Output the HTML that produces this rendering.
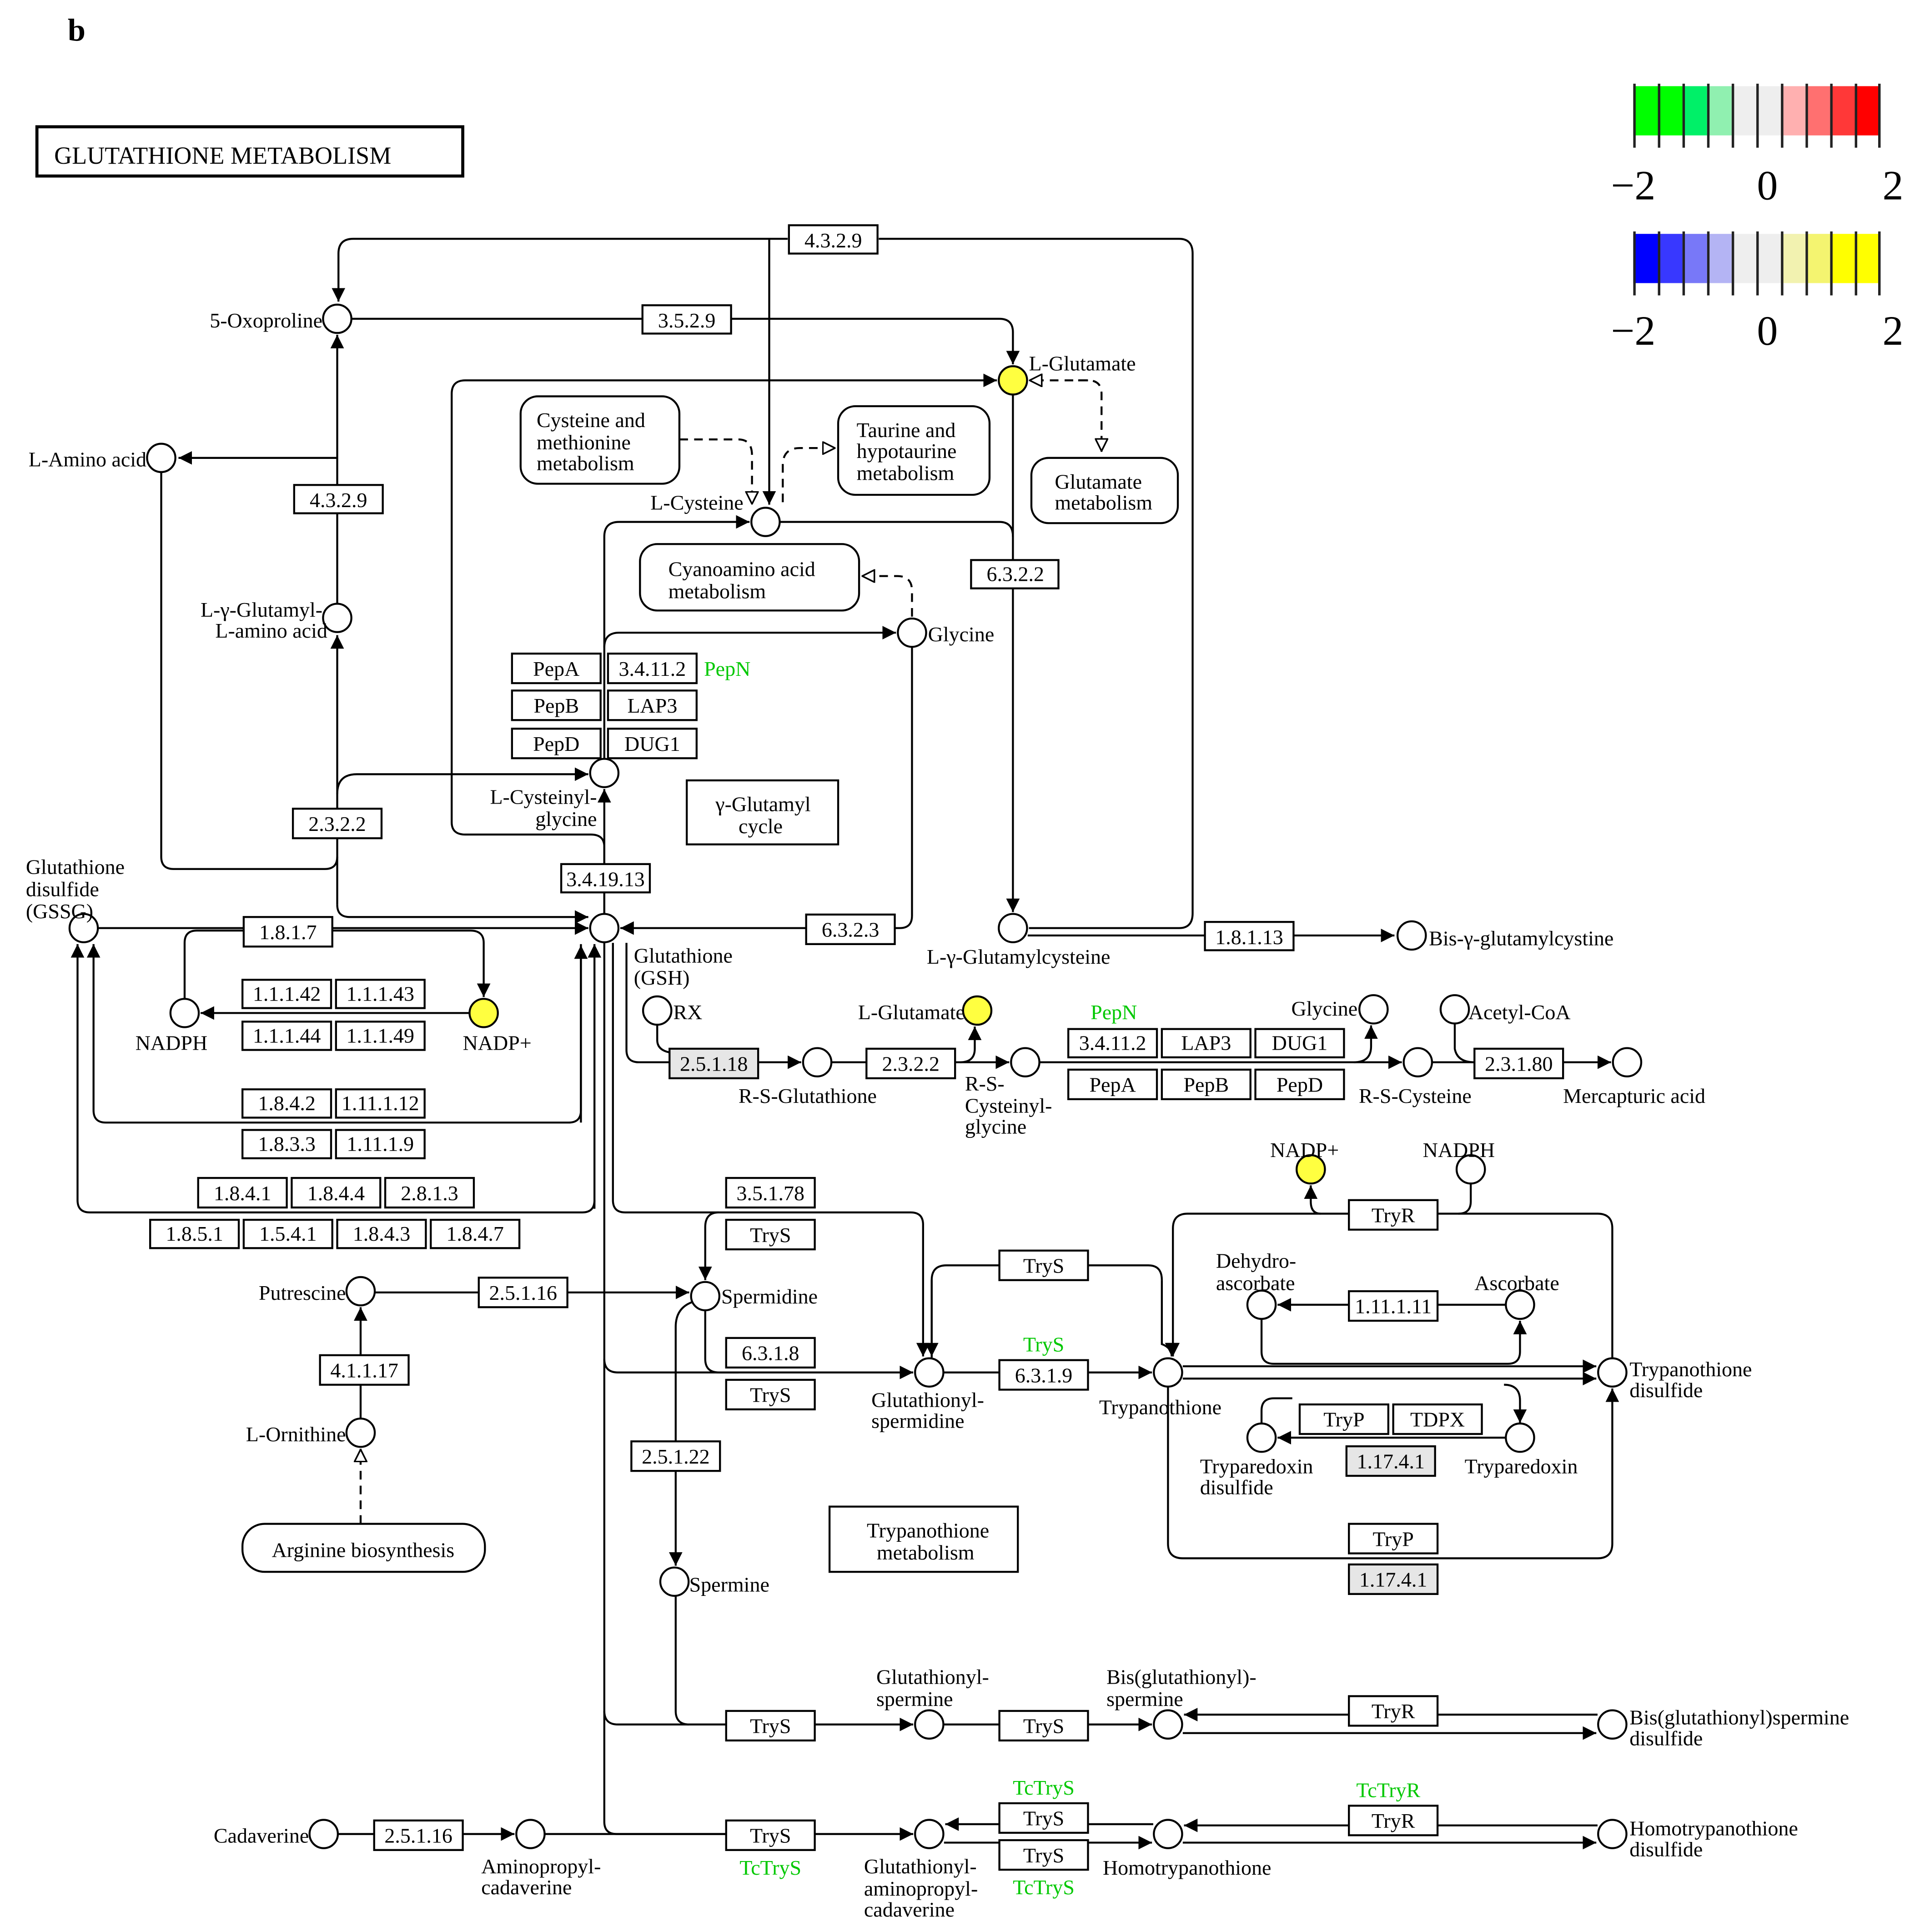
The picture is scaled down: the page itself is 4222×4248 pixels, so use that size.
<!DOCTYPE html>
<html><head><meta charset="utf-8"><style>
html,body{margin:0;padding:0;background:#fff;}
svg{display:block;}
text{font-family:"Liberation Serif",serif;font-size:17px;fill:#000;}
.g{fill:#00c800;}
.b rect{fill:#fff;stroke:#000;stroke-width:1.6;}
.b rect.gr{fill:#e6e6e6;}
.n{fill:#fff;stroke:#000;stroke-width:1.6;}
.y{fill:#ffff40;stroke:#000;stroke-width:1.6;}
.l{fill:none;stroke:#000;stroke-width:1.6;}
.d{fill:none;stroke:#000;stroke-width:1.6;stroke-dasharray:7,5;}
.c{text-anchor:middle;}
.r{text-anchor:end;}
</style></head><body>
<svg width="4222" height="4248" viewBox="0 0 1560 1569.6" xmlns="http://www.w3.org/2000/svg">
<defs>
<marker id="a" viewBox="0 0 10 10" refX="10" refY="5" markerWidth="11" markerHeight="11" markerUnits="userSpaceOnUse" orient="auto"><path d="M0,0L10,5L0,10z" fill="#000"/></marker>
<marker id="o" viewBox="0 0 10 10" refX="10" refY="5" markerWidth="11" markerHeight="11" markerUnits="userSpaceOnUse" orient="auto"><path d="M0.5,0.5L9.5,5L0.5,9.5z" fill="#fff" stroke="#000" stroke-width="1.2"/></marker>
</defs>
<rect width="1560" height="1570" fill="#fff"/>
<text x="55" y="33" style="font-size:26px;font-weight:bold">b</text>
<g>
<rect x="1327" y="70" width="20" height="40" fill="#00ff00"/><rect x="1347" y="70" width="20" height="40" fill="#00ff00"/>
<rect x="1367" y="70" width="20" height="40" fill="#00f068"/><rect x="1387" y="70" width="20" height="40" fill="#90f0b0"/>
<rect x="1407" y="70" width="40" height="40" fill="#eeeeee"/>
<rect x="1447" y="70" width="20" height="40" fill="#ffb0b0"/><rect x="1467" y="70" width="20" height="40" fill="#ff7070"/>
<rect x="1487" y="70" width="20" height="40" fill="#ff3838"/><rect x="1507" y="70" width="20" height="40" fill="#ff0000"/>
<rect x="1327" y="190" width="20" height="40" fill="#0000ff"/><rect x="1347" y="190" width="20" height="40" fill="#3838ff"/>
<rect x="1367" y="190" width="20" height="40" fill="#7878f8"/><rect x="1387" y="190" width="20" height="40" fill="#b4b4f4"/>
<rect x="1407" y="190" width="40" height="40" fill="#eeeeee"/>
<rect x="1447" y="190" width="20" height="40" fill="#f2f2b0"/><rect x="1467" y="190" width="20" height="40" fill="#f4f470"/>
<rect x="1487" y="190" width="20" height="40" fill="#ffff00"/><rect x="1507" y="190" width="20" height="40" fill="#ffff00"/>
<path stroke="#222" stroke-width="2" d="M1328,68v52M1348,68v52M1368,68v52M1388,68v52M1408,68v52M1428,68v52M1448,68v52M1468,68v52M1488,68v52M1508,68v52M1527,68v52M1328,188v52M1348,188v52M1368,188v52M1388,188v52M1408,188v52M1428,188v52M1448,188v52M1468,188v52M1488,188v52M1508,188v52M1527,188v52"/>
<text x="1327" y="162" class="c" style="font-size:34px">−2</text><text x="1436" y="162" class="c" style="font-size:34px">0</text><text x="1538" y="162" class="c" style="font-size:34px">2</text>
<text x="1327" y="280" class="c" style="font-size:34px">−2</text><text x="1436" y="280" class="c" style="font-size:34px">0</text><text x="1538" y="280" class="c" style="font-size:34px">2</text>
</g>
<rect x="30" y="103" width="346" height="40" fill="#fff" stroke="#000" stroke-width="2.5"/>
<text x="44" y="133" style="font-size:20px">GLUTATHIONE  METABOLISM</text>

<g fill="#fff" stroke="#000" stroke-width="1.6">
<rect x="423" y="322" width="129" height="71" rx="14"/>
<rect x="681" y="330" width="123" height="72" rx="14"/>
<rect x="838" y="372" width="119" height="53" rx="14"/>
<rect x="520" y="442" width="178" height="54" rx="14"/>
<rect x="558" y="634" width="123" height="52"/>
<rect x="674" y="1224" width="153" height="53"/>
<rect x="197" y="1238" width="197" height="39" rx="18"/>
</g>
<text x="436" y="347">Cysteine and</text><text x="436" y="365">methionine</text><text x="436" y="382">metabolism</text>
<text x="696" y="355">Taurine and</text><text x="696" y="372">hypotaurine</text><text x="696" y="390">metabolism</text>
<text x="857" y="397">Glutamate</text><text x="857" y="414">metabolism</text>
<text x="543" y="468">Cyanoamino acid</text><text x="543" y="486">metabolism</text>
<text x="620" y="659" class="c">γ-Glutamyl</text><text x="618" y="677" class="c">cycle</text>
<text x="754" y="1249" class="c">Trypanothione</text><text x="752" y="1267" class="c">metabolism</text>
<text x="295" y="1265" class="c">Arginine biosynthesis</text>

<g class="l">
<path d="M640,194H287Q275,194 275,206V245" marker-end="url(#a)"/>
<path d="M714,194H958Q969,194 969,206V742Q969,754 958,754H836"/>
<path d="M625,194V410" marker-end="url(#a)"/>
<path d="M286,259H812Q823,259 823,270V296" marker-end="url(#a)"/>
<path d="M274,490V272" marker-end="url(#a)"/>
<path d="M274,372H145" marker-end="url(#a)"/>
<path d="M131,384V696Q131,706 141,706H264Q274,706 274,696"/>
<path d="M274,735V516" marker-end="url(#a)"/>
<path d="M274,735Q274,745 284,745H478" marker-end="url(#a)"/>
<path d="M274,645Q274,629 290,629H478" marker-end="url(#a)"/>
<path d="M823,321V741" marker-end="url(#a)"/>
<path d="M367,320Q367,309 378,309H810" marker-end="url(#a)"/>
<path d="M367,320V668Q367,678 378,678H480Q491,678 491,688V742"/>
<path d="M491,742V641" marker-end="url(#a)"/>
<path d="M491,616V436Q491,424 503,424H609" marker-end="url(#a)"/>
<path d="M634,424H812Q823,424 823,436"/>
<path d="M491,526Q491,514 503,514H728" marker-end="url(#a)"/>
<path d="M741,526V744Q741,754 731,754H504" marker-end="url(#a)"/>
<path d="M80,754H478" marker-end="url(#a)"/>
<path d="M150,811V766Q150,756 160,756H382Q393,756 393,766V810" marker-end="url(#a)"/>
<path d="M381,823H163" marker-end="url(#a)"/>
<path d="M472,767V902Q472,912 462,912H86Q76,912 76,902V767" marker-end="url(#a)"/>
<path d="M483,982V767" marker-end="url(#a)"/>
<path d="M483,975Q483,985 473,985H73Q63,985 63,975V767" marker-end="url(#a)"/>
<path d="M472,912V768" marker-end="url(#a)"/>
<path d="M491,766V1480Q491,1490 501,1490H591"/>
<path d="M498,766V975Q498,985 508,985H740Q750,985 750,995V1102" marker-end="url(#a)"/>
<path d="M584,985Q573,985 573,997V1040" marker-end="url(#a)"/>
<path d="M509,766V853Q509,863 519,863H651" marker-end="url(#a)"/>
<path d="M534,833V845Q534,853 544,855"/>
<path d="M676,863H820" marker-end="url(#a)"/>
<path d="M780,863Q792,863 792,852V834" marker-end="url(#a)"/>
<path d="M845,863H1139" marker-end="url(#a)"/>
<path d="M1100,863Q1114,863 1114,850V833" marker-end="url(#a)"/>
<path d="M1182,832V852Q1184,863 1198,863"/>
<path d="M1164,863H1309" marker-end="url(#a)"/>
<path d="M305,1050H560" marker-end="url(#a)"/>
<path d="M293,1152V1062" marker-end="url(#a)"/>
<path d="M573,1065V1104Q573,1115 584,1115H742" marker-end="url(#a)"/>
<path d="M491,1104Q491,1115 502,1115H600"/>
<path d="M562,1058Q549,1063 549,1078V1272" marker-end="url(#a)"/>
<path d="M767,1115H936" marker-end="url(#a)"/>
<path d="M757,1103V1040Q757,1028 769,1028H933Q944,1028 944,1040"/>
<path d="M757,1040V1102" marker-end="url(#a)"/>
<path d="M944,1040V1092Q952,1095 952,1102" marker-end="url(#a)"/>
<path d="M961,1110H1297" marker-end="url(#a)"/>
<path d="M961,1120H1297" marker-end="url(#a)"/>
<path d="M1310,1103V998Q1310,986 1298,986H1168"/>
<path d="M1195,962V976Q1195,986 1185,986"/>
<path d="M1073,986Q1065,986 1065,976V963" marker-end="url(#a)"/>
<path d="M1096,986H965Q953,986 953,998V1102" marker-end="url(#a)"/>
<path d="M949,1127V1254Q949,1266 961,1266H1298Q1310,1266 1310,1254V1128" marker-end="url(#a)"/>
<path d="M1223,1060H1038" marker-end="url(#a)"/>
<path d="M1025,1072V1098Q1025,1108 1035,1108H1225Q1235,1108 1235,1098V1073" marker-end="url(#a)"/>
<path d="M1222,1125Q1235,1125 1235,1138V1156" marker-end="url(#a)"/>
<path d="M1223,1168H1038" marker-end="url(#a)"/>
<path d="M1025,1156V1146Q1025,1136 1035,1136H1050"/>
<path d="M549,1297V1390Q549,1401 560,1401H742" marker-end="url(#a)"/>
<path d="M491,1390Q491,1401 502,1401H560"/>
<path d="M767,1401H936" marker-end="url(#a)"/>
<path d="M1298,1393H962" marker-end="url(#a)"/>
<path d="M961,1408H1297" marker-end="url(#a)"/>
<path d="M275,1490H418" marker-end="url(#a)"/>
<path d="M443,1490H742" marker-end="url(#a)"/>
<path d="M937,1482H768" marker-end="url(#a)"/>
<path d="M767,1497H936" marker-end="url(#a)"/>
<path d="M1298,1483H962" marker-end="url(#a)"/>
<path d="M961,1497H1297" marker-end="url(#a)"/>
<path d="M835,760H1133" marker-end="url(#a)"/>
</g>
<path class="d" d="M552,357H600Q611,357 611,370V410" marker-end="url(#o)"/>
<path class="d" d="M636,408V378Q636,364 650,364H679" marker-end="url(#o)"/>
<path class="d" d="M876,309H884Q895,309 895,320V367" marker-end="url(#o)"/>
<path class="d" d="M884,309H836" marker-end="url(#o)"/>
<path class="d" d="M741,501V480Q741,468 729,468H700" marker-end="url(#o)"/>
<path class="d" d="M293,1238V1177" marker-end="url(#o)"/>

<g class="b">
<rect x="641" y="183" width="72" height="23"/><rect x="522" y="248" width="72" height="23"/>
<rect x="239" y="394" width="72" height="23"/><rect x="789" y="455" width="71" height="23"/>
<rect x="416" y="531" width="72" height="24"/><rect x="494" y="531" width="72" height="24"/>
<rect x="416" y="561" width="72" height="24"/><rect x="494" y="561" width="72" height="24"/>
<rect x="416" y="592" width="72" height="24"/><rect x="494" y="592" width="72" height="24"/>
<rect x="238" y="657" width="72" height="24"/><rect x="456" y="702" width="72" height="23"/>
<rect x="655" y="743" width="72" height="24"/><rect x="198" y="745" width="72" height="24"/>
<rect x="979" y="749" width="72" height="23"/>
<rect x="197" y="796" width="72" height="23"/><rect x="273" y="796" width="72" height="23"/>
<rect x="197" y="830" width="72" height="23"/><rect x="273" y="830" width="72" height="23"/>
<rect x="544" y="852" width="72" height="24" class="gr"/><rect x="704" y="852" width="72" height="24"/>
<rect x="868" y="836" width="72" height="23"/><rect x="944" y="836" width="72" height="23"/><rect x="1020" y="836" width="72" height="23"/>
<rect x="868" y="869" width="72" height="24"/><rect x="944" y="869" width="72" height="24"/><rect x="1020" y="869" width="72" height="24"/>
<rect x="1198" y="852" width="72" height="24"/>
<rect x="197" y="885" width="72" height="23"/><rect x="273" y="885" width="72" height="23"/>
<rect x="197" y="918" width="72" height="23"/><rect x="273" y="918" width="72" height="23"/>
<rect x="161" y="957" width="72" height="24"/><rect x="237" y="957" width="72" height="24"/><rect x="313" y="957" width="72" height="24"/>
<rect x="122" y="991" width="72" height="23"/><rect x="198" y="991" width="72" height="23"/><rect x="274" y="991" width="72" height="23"/><rect x="350" y="991" width="72" height="23"/>
<rect x="590" y="957" width="72" height="24"/><rect x="590" y="991" width="72" height="24"/>
<rect x="1096" y="975" width="72" height="24"/><rect x="812" y="1016" width="72" height="24"/>
<rect x="389" y="1038" width="72" height="24"/><rect x="1096" y="1049" width="72" height="24"/>
<rect x="590" y="1087" width="72" height="24"/><rect x="812" y="1105" width="72" height="24"/>
<rect x="590" y="1121" width="72" height="24"/><rect x="260" y="1101" width="72" height="24"/>
<rect x="1056" y="1141" width="72" height="24"/><rect x="1132" y="1141" width="72" height="24"/>
<rect x="1094" y="1175" width="72" height="24" class="gr"/><rect x="513" y="1171" width="72" height="24"/>
<rect x="1096" y="1238" width="72" height="24"/><rect x="1096" y="1271" width="72" height="24" class="gr"/>
<rect x="1096" y="1378" width="72" height="24"/>
<rect x="590" y="1390" width="72" height="24"/><rect x="812" y="1390" width="72" height="24"/>
<rect x="304" y="1479" width="72" height="24"/><rect x="590" y="1479" width="72" height="24"/>
<rect x="812" y="1465" width="72" height="24"/><rect x="812" y="1495" width="72" height="24"/>
<rect x="1096" y="1467" width="72" height="24"/>
</g>
<g class="c">
<text x="677" y="201">4.3.2.9</text><text x="558" y="266">3.5.2.9</text><text x="275" y="412">4.3.2.9</text><text x="825" y="472">6.3.2.2</text>
<text x="452" y="549">PepA</text><text x="530" y="549">3.4.11.2</text><text x="452" y="579">PepB</text><text x="530" y="579">LAP3</text>
<text x="452" y="610">PepD</text><text x="530" y="610">DUG1</text><text x="274" y="675">2.3.2.2</text><text x="492" y="720">3.4.19.13</text>
<text x="691" y="761">6.3.2.3</text><text x="234" y="763">1.8.1.7</text><text x="1015" y="767">1.8.1.13</text>
<text x="233" y="813">1.1.1.42</text><text x="309" y="813">1.1.1.43</text><text x="233" y="847">1.1.1.44</text><text x="309" y="847">1.1.1.49</text>
<text x="580" y="870">2.5.1.18</text><text x="740" y="870">2.3.2.2</text>
<text x="904" y="853">3.4.11.2</text><text x="980" y="853">LAP3</text><text x="1056" y="853">DUG1</text>
<text x="904" y="887">PepA</text><text x="980" y="887">PepB</text><text x="1056" y="887">PepD</text>
<text x="1234" y="870">2.3.1.80</text>
<text x="233" y="902">1.8.4.2</text><text x="309" y="902">1.11.1.12</text><text x="233" y="935">1.8.3.3</text><text x="309" y="935">1.11.1.9</text>
<text x="197" y="975">1.8.4.1</text><text x="273" y="975">1.8.4.4</text><text x="349" y="975">2.8.1.3</text>
<text x="158" y="1008">1.8.5.1</text><text x="234" y="1008">1.5.4.1</text><text x="310" y="1008">1.8.4.3</text><text x="386" y="1008">1.8.4.7</text>
<text x="626" y="975">3.5.1.78</text><text x="626" y="1009">TryS</text><text x="1132" y="993">TryR</text><text x="848" y="1034">TryS</text>
<text x="425" y="1056">2.5.1.16</text><text x="1132" y="1067">1.11.1.11</text><text x="626" y="1105">6.3.1.8</text><text x="848" y="1123">6.3.1.9</text>
<text x="626" y="1139">TryS</text><text x="296" y="1119">4.1.1.17</text><text x="1092" y="1159">TryP</text><text x="1168" y="1159">TDPX</text>
<text x="1130" y="1193">1.17.4.1</text><text x="549" y="1189">2.5.1.22</text><text x="1132" y="1256">TryP</text><text x="1132" y="1289">1.17.4.1</text>
<text x="1132" y="1396">TryR</text><text x="626" y="1408">TryS</text><text x="848" y="1408">TryS</text>
<text x="340" y="1497">2.5.1.16</text><text x="626" y="1497">TryS</text><text x="848" y="1483">TryS</text><text x="848" y="1513">TryS</text><text x="1132" y="1485">TryR</text>
<text x="905" y="828" class="g">PepN</text><text x="848" y="1098" class="g">TryS</text><text x="626" y="1523" class="g">TcTryS</text>
<text x="848" y="1458" class="g">TcTryS</text><text x="848" y="1539" class="g">TcTryS</text><text x="1128" y="1460" class="g">TcTryR</text>
</g>
<text x="572" y="549" class="g">PepN</text>

<g class="n">
<circle cx="274" cy="259" r="11.5"/><circle cx="131" cy="372" r="11.5"/><circle cx="622" cy="424" r="11.5"/>
<circle cx="741" cy="514" r="11.5"/><circle cx="274" cy="502" r="11.5"/><circle cx="491" cy="628" r="11.5"/>
<circle cx="68" cy="754" r="11.5"/><circle cx="491" cy="754" r="11.5"/><circle cx="823" cy="754" r="11.5"/>
<circle cx="1147" cy="760" r="11.5"/><circle cx="150" cy="823" r="11.5"/><circle cx="534" cy="821" r="11.5"/>
<circle cx="664" cy="863" r="11.5"/><circle cx="833" cy="863" r="11.5"/><circle cx="1116" cy="820" r="11.5"/>
<circle cx="1182" cy="820" r="11.5"/><circle cx="1152" cy="863" r="11.5"/><circle cx="1322" cy="863" r="11.5"/>
<circle cx="1195" cy="950" r="11.5"/><circle cx="293" cy="1049" r="11.5"/><circle cx="573" cy="1053" r="11.5"/>
<circle cx="293" cy="1164" r="11.5"/><circle cx="1025" cy="1060" r="11.5"/><circle cx="1235" cy="1060" r="11.5"/>
<circle cx="755" cy="1115" r="11.5"/><circle cx="949" cy="1115" r="11.5"/><circle cx="1310" cy="1115" r="11.5"/>
<circle cx="1025" cy="1168" r="11.5"/><circle cx="1235" cy="1168" r="11.5"/><circle cx="548" cy="1285" r="11.5"/>
<circle cx="755" cy="1401" r="11.5"/><circle cx="949" cy="1401" r="11.5"/><circle cx="1310" cy="1401" r="11.5"/>
<circle cx="263" cy="1490" r="11.5"/><circle cx="431" cy="1490" r="11.5"/><circle cx="755" cy="1490" r="11.5"/>
<circle cx="949" cy="1490" r="11.5"/><circle cx="1310" cy="1490" r="11.5"/>
</g>
<g class="y">
<circle cx="823" cy="309" r="11.5"/><circle cx="393" cy="823" r="11.5"/><circle cx="794" cy="821" r="11.5"/><circle cx="1065" cy="950" r="11.5"/>
</g>

<text x="262" y="266" class="r">5-Oxoproline</text>
<text x="836" y="301">L-Glutamate</text>
<text x="119" y="379" class="r">L-Amino acid</text>
<text x="604" y="414" class="r">L-Cysteine</text>
<text x="754" y="521">Glycine</text>
<text x="262" y="501" class="r">L-γ-Glutamyl-</text><text x="266" y="518" class="r">L-amino acid</text>
<text x="485" y="653" class="r">L-Cysteinyl-</text><text x="485" y="671" class="r">glycine</text>
<text x="21" y="710">Glutathione</text><text x="21" y="728">disulfide</text><text x="21" y="746">(GSSG)</text>
<text x="515" y="782">Glutathione</text><text x="515" y="800">(GSH)</text>
<text x="753" y="783">L-γ-Glutamylcysteine</text>
<text x="1161" y="768">Bis-γ-glutamylcystine</text>
<text x="110" y="853">NADPH</text><text x="376" y="853">NADP+</text>
<text x="547" y="828">RX</text><text x="784" y="828" class="r">L-Glutamate</text>
<text x="600" y="896">R-S-Glutathione</text>
<text x="784" y="886">R-S-</text><text x="784" y="904">Cysteinyl-</text><text x="784" y="921">glycine</text>
<text x="1103" y="825" class="r">Glycine</text><text x="1193" y="828">Acetyl-CoA</text>
<text x="1104" y="896">R-S-Cysteine</text><text x="1270" y="896">Mercapturic acid</text>
<text x="1032" y="940">NADP+</text><text x="1156" y="940">NADPH</text>
<text x="281" y="1056" class="r">Putrescine</text><text x="586" y="1059">Spermidine</text>
<text x="281" y="1171" class="r">L-Ornithine</text>
<text x="988" y="1030">Dehydro-</text><text x="988" y="1048">ascorbate</text><text x="1198" y="1048">Ascorbate</text>
<text x="708" y="1143">Glutathionyl-</text><text x="708" y="1160">spermidine</text>
<text x="893" y="1149">Trypanothione</text>
<text x="1324" y="1118">Trypanothione</text><text x="1324" y="1135">disulfide</text>
<text x="975" y="1197">Tryparedoxin</text><text x="975" y="1214">disulfide</text><text x="1190" y="1197">Tryparedoxin</text>
<text x="560" y="1293">Spermine</text>
<text x="712" y="1368">Glutathionyl-</text><text x="712" y="1386">spermine</text>
<text x="899" y="1368">Bis(glutathionyl)-</text><text x="899" y="1386">spermine</text>
<text x="1324" y="1401">Bis(glutathionyl)spermine</text><text x="1324" y="1418">disulfide</text>
<text x="251" y="1497" class="r">Cadaverine</text>
<text x="391" y="1522">Aminopropyl-</text><text x="391" y="1539">cadaverine</text>
<text x="702" y="1522">Glutathionyl-</text><text x="702" y="1540">aminopropyl-</text><text x="702" y="1557">cadaverine</text>
<text x="896" y="1523">Homotrypanothione</text>
<text x="1324" y="1491">Homotrypanothione</text><text x="1324" y="1508">disulfide</text>
</svg>
</body></html>
